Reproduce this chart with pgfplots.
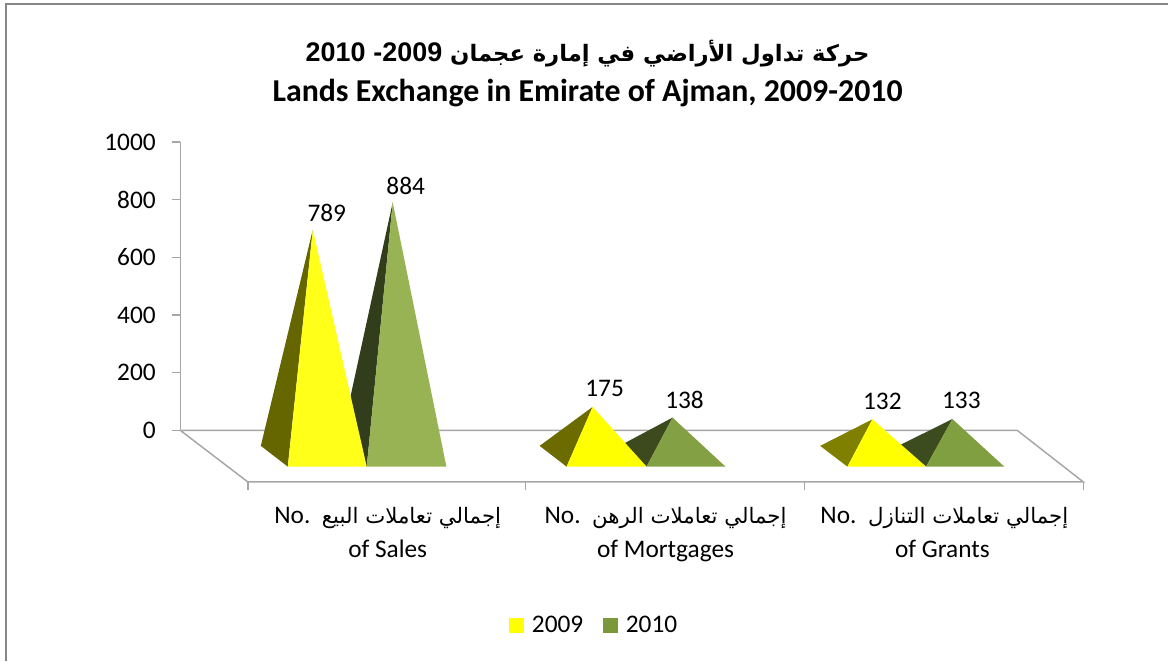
\documentclass[border=0pt]{standalone}
\usepackage{pgfplots}
\pgfplotsset{compat=1.18}
\usepackage{fontspec}
\setmainfont{Carlito}
\TeXXeTstate=1
\newfontfamily\arabicfont[Script=Arabic]{DejaVu Sans}
\newfontfamily\libfont{Liberation Sans}
\definecolor{axgray}{HTML}{A6A6A6}
\definecolor{frameg}{HTML}{868686}
\definecolor{yA}{HTML}{FFFF19}
\definecolor{yAd}{HTML}{666600}
\definecolor{gA}{HTML}{98B354}
\definecolor{gAd}{HTML}{323D1B}
\definecolor{yB}{HTML}{FFFF00}
\definecolor{yBd}{HTML}{6B6B00}
\definecolor{gB}{HTML}{84A044}
\definecolor{gBd}{HTML}{3C4A1E}
\definecolor{yCd}{HTML}{808000}
\definecolor{gC}{HTML}{7F9F40}
\definecolor{gCd}{HTML}{3C4C1E}
\definecolor{legG}{HTML}{7B983A}
\pgfplotsset{
  pyr/.style={draw=none, forget plot, yshift=-20.25pt},
  flr/.style={axgray, line width=1.1pt, forget plot},
}
\tikzset{
  vlab/.style={font=\fontsize{19}{22}\selectfont, anchor=center, inner sep=0pt},
  clab/.style={font=\fontsize{19}{22}\selectfont, anchor=center, inner sep=0pt},
}
\newcommand{\arcat}[1]{{\fontsize{16}{19}\selectfont\arabicfont\beginR #1\endR}}
\begin{document}
\begin{tikzpicture}[x=0.75pt,y=0.75pt]
\begin{axis}[
  scale only axis,
  anchor=origin,
  at={(0,0)},
  width=677.625pt,
  height=216.525pt,
  xmin=180.5, xmax=1084,
  ymin=0, ymax=1000,
  clip=false,
  axis y line=left,
  axis x line=none,
  y axis line style={-, axgray, line width=1.1pt},
  ytick={0,200,400,600,800,1000},
  y tick style={axgray, line width=1.1pt},
  tick align=outside,
  major tick length=6pt,
  yticklabel style={font=\fontsize{19}{22}\selectfont, xshift=-9pt},
  /pgf/number format/assume math mode=true,
  /pgf/number format/1000 sep={},
  legend style={draw=none, fill=none, at={(axis cs:595,-675)}, anchor=center,
     legend columns=2, font=\fontsize{19}{22}\selectfont,
     /tikz/every odd column/.append style={column sep=3.75pt},
     /tikz/every even column/.append style={column sep=13pt}},
  legend cell align=left,
  legend image code/.code={\fill[#1] (0pt,-5.6pt) rectangle (11.2pt,5.6pt);},
]
% page extent and chart frame
\path (axis cs:0,-798.4) rectangle (axis cs:1169,1491.9);
\addplot[frameg, line width=1.2pt, forget plot] coordinates {(6,-798.4) (6,1477) (1169,1477)};
% floor
\addplot[flr] coordinates {(180.5,0) (1018,0) (1084,-178.6) (248,-178.6) (180.5,0)};
\addplot[flr] coordinates {(248,-178.6) (248,-207)};
\addplot[flr] coordinates {(526,-178.6) (526,-207)};
\addplot[flr] coordinates {(805,-178.6) (805,-207)};
\addplot[flr] coordinates {(1084,-178.6) (1084,-207)};
% legend keys
\addlegendimage{draw=none, fill=yB}
\addlegendimage{draw=none, fill=legG}
\addlegendentry{2009}
\addlegendentry{2010}
% group 1
\addplot[pyr, fill=gAd] coordinates {(393,884) (367,-32) (340,40)};
\addplot[pyr, fill=gA] coordinates {(393,884) (367,-32) (446.7,-32)};
\addplot[pyr, fill=yAd] coordinates {(313,789) (288,-32) (261,40)};
\addplot[pyr, fill=yA] coordinates {(313,789) (288,-32) (367,-32)};
% group 2
\addplot[pyr, fill=gBd] coordinates {(673,138) (647,-32) (620,40)};
\addplot[pyr, fill=gB] coordinates {(673,138) (647,-32) (726,-32)};
\addplot[pyr, fill=yBd] coordinates {(593,175) (567,-32) (540,40)};
\addplot[pyr, fill=yB] coordinates {(593,175) (567,-32) (647,-32)};
% group 3
\addplot[pyr, fill=gCd] coordinates {(953,133) (926.7,-32) (899,40)};
\addplot[pyr, fill=gC] coordinates {(953,133) (926.7,-32) (1005,-32)};
\addplot[pyr, fill=yCd] coordinates {(873,132) (848,-32) (820.7,40)};
\addplot[pyr, fill=yB] coordinates {(873,132) (848,-32) (926.7,-32)};
% value labels
\node[vlab] at (axis cs:327,754) {789};
\node[vlab] at (axis cs:406,847) {884};
\node[vlab] at (axis cs:605,144) {175};
\node[vlab] at (axis cs:685,106) {138};
\node[vlab] at (axis cs:883,99) {132};
\node[vlab] at (axis cs:962,103) {133};
% category labels
\node[clab] at (axis cs:388,-305) {No.\ \ \arcat{إجمالي تعاملات البيع}};
\node[clab] at (axis cs:388,-412) {of Sales};
\node[clab] at (axis cs:666,-305) {No.\ \ \arcat{إجمالي تعاملات الرهن}};
\node[clab] at (axis cs:666,-419) {of Mortgages};
\node[clab] at (axis cs:945,-305) {No.\ \ \arcat{إجمالي تعاملات التنازل}};
\node[clab] at (axis cs:943,-412) {of Grants};
% title
\node[anchor=center, inner sep=0pt, font=\fontsize{17}{21}\selectfont\bfseries] at (axis cs:588,1305) {\arabicfont\beginR حركة تداول الأراضي في إمارة عجمان \beginL{\libfont\fontsize{20.2}{21}\selectfont 2009}\endL{\libfont\fontsize{20.2}{21}\selectfont -} \beginL{\libfont\fontsize{20.2}{21}\selectfont 2010}\endL\endR};
\node[anchor=center, inner sep=0pt, font=\fontsize{23.9}{28}\selectfont\bfseries] at (axis cs:588,1168) {Lands Exchange in Emirate of Ajman, 2009-2010};
\end{axis}
\end{tikzpicture}
\end{document}
